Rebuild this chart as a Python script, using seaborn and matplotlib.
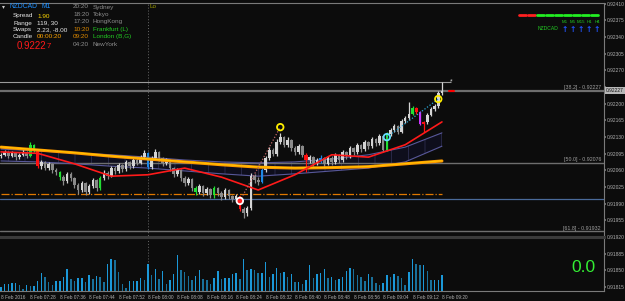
import numpy as np
import pandas as pd
import matplotlib
matplotlib.use('Agg')
import matplotlib.pyplot as plt
import seaborn as sns

# ------------------------------------------------------------ #
# data: NZDCAD M1, 8 Feb 2016 07:20 - 09:20
# ------------------------------------------------------------ #

bar_times = pd.date_range('2016-02-08 07:20', periods=121, freq='min')
first_open = 92090
close_pts = [92093, 92099, 92090, 92097, 92088,
             92093, 92099, 92090, 92114, 92103, 92069, 92078, 92065, 92074, 92061, 92057, 92046, 92038, 92053,
             92044, 92030, 92019, 92034, 92015, 92027, 92040, 92023, 92044, 92055, 92048, 92065, 92059, 92072,
             92063, 92078, 92069, 92082, 92076, 92088, 92097, 92067, 92086, 92099, 92086, 92076, 92082, 92065,
             92053, 92061, 92044, 92034, 92042, 92023, 92015, 92027, 92013, 92021, 92009, 92023, 92013, 92004,
             92019, 92006, 92000, 92006, 91979, 91971, 91981, 92048, 92040, 92036, 92061, 92086, 92103, 92095,
             92120, 92130, 92114, 92124, 92107, 92099, 92111, 92093, 92082, 92088, 92076, 92082, 92086, 92074,
             92086, 92078, 92093, 92082, 92099, 92090, 92107, 92099, 92114, 92105, 92120, 92111, 92126, 92118,
             92132, 92103, 92137, 92145, 92153, 92141, 92164, 92170, 92179, 92191, 92183, 92158, 92162, 92177,
             92189, 92195, 92222, 92227]
high_pts = [92097, 92103, 92101, 92101, 92099,
            92097, 92105, 92101, 92120, 92116, 92105, 92082, 92080, 92078, 92076, 92065, 92059, 92050, 92057,
            92057, 92046, 92034, 92038, 92036, 92032, 92044, 92042, 92048, 92061, 92059, 92069, 92069, 92076,
            92074, 92082, 92080, 92088, 92086, 92093, 92103, 92099, 92090, 92105, 92101, 92088, 92086, 92084,
            92067, 92065, 92063, 92048, 92046, 92044, 92027, 92032, 92030, 92025, 92023, 92027, 92025, 92017,
            92023, 92021, 92009, 92011, 92006, 91983, 91986, 92055, 92053, 92046, 92065, 92090, 92109, 92107,
            92126, 92139, 92132, 92130, 92126, 92111, 92116, 92114, 92097, 92093, 92090, 92086, 92093, 92088,
            92090, 92090, 92097, 92095, 92103, 92101, 92111, 92109, 92118, 92116, 92124, 92122, 92130, 92128,
            92137, 92135, 92141, 92149, 92158, 92156, 92168, 92174, 92204, 92195, 92193, 92185, 92164, 92181,
            92193, 92200, 92226, 92246]
low_pts = [92086, 92090, 92086, 92088, 92082,
           92084, 92090, 92086, 92088, 92099, 92065, 92063, 92061, 92061, 92055, 92050, 92040, 92030, 92034,
           92038, 92023, 92011, 92015, 92009, 92011, 92023, 92017, 92019, 92040, 92042, 92046, 92053, 92055,
           92057, 92059, 92063, 92065, 92072, 92074, 92084, 92063, 92063, 92082, 92080, 92069, 92072, 92059,
           92046, 92048, 92038, 92027, 92030, 92017, 92009, 92011, 92006, 92009, 92002, 92002, 92006, 91998,
           92000, 92000, 91994, 91996, 91975, 91960, 91965, 91977, 92034, 92030, 92034, 92057, 92082, 92090,
           92090, 92116, 92109, 92109, 92101, 92093, 92095, 92088, 92057, 92076, 92069, 92072, 92076, 92067,
           92072, 92072, 92074, 92076, 92078, 92084, 92086, 92093, 92095, 92099, 92101, 92105, 92107, 92111,
           92114, 92099, 92101, 92132, 92141, 92137, 92139, 92160, 92166, 92177, 92179, 92156, 92141, 92158,
           92174, 92185, 92191, 92218]
tick_volume = [9, 14, 15, 17, 17, 12, 5, 12, 10, 11, 20, 37, 29, 19, 12, 21, 21, 29, 44, 24,
               21, 27, 27, 19, 32, 25, 30, 29, 19, 55, 65, 62, 39, 15, 7, 20, 21, 21, 27, 22,
               55, 32, 45, 25, 40, 15, 22, 34, 72, 43, 39, 30, 22, 31, 42, 24, 22, 14, 27, 41,
               25, 27, 27, 35, 37, 25, 64, 43, 45, 42, 37, 37, 59, 29, 35, 47, 37, 39, 29, 34,
               19, 19,
               15, 22, 52, 27, 35, 37, 45, 27, 29, 22, 24, 29, 40, 47, 45, 32, 29, 20, 34, 29,
               17, 13, 17, 32, 29, 35, 30, 27, 13, 39, 64, 54, 52, 52, 41, 22, 22, 22, 32]

# signal-coloured bars
green_bars = [8, 9, 16, 27, 53, 58, 105, 112]
blue_bars = [40, 71, 87]
red_bars = [10, 65, 83, 113, 115]
purple_bars = [114]

# moving averages / envelope read every 10 bars
ma_bars = [0, 10, 20, 30, 40, 50, 60, 70, 80, 90, 100, 110, 120]
ma_fast = [92099, 92096, 92074, 92048, 92051, 92065, 92046, 92019, 92051, 92093, 92088, 92114, 92162]
ma_slow = [92109, 92103, 92097, 92090, 92084, 92078, 92072, 92067, 92065, 92066, 92068, 92074, 92080]
env_upper = [92105, 92101, 92097, 92093, 92088, 92082, 92078, 92076, 92078, 92084, 92093, 92109, 92139]
env_lower = [92080, 92078, 92074, 92069, 92065, 92059, 92053, 92048, 92053, 92059, 92065, 92078, 92111]

# zigzag swing points
swing_bars = [65, 76, 105, 119]
swing_pts = [91996, 92151, 92130, 92210]

fib_levels = ['38.2', '50.0', '61.8']
fib_prices = [0.92227, 0.92076, 0.91932]
recent_high = 0.92246
bid = 0.92227
level_blue = 0.92000
level_orange = 0.92011

price_ticks = [0.92410, 0.92375, 0.92340, 0.92305, 0.92270, 0.92235, 0.92200, 0.92165, 0.92130,
               0.92095, 0.92060, 0.92025, 0.91990, 0.91955, 0.91920, 0.91885, 0.91850, 0.91815]

sessions = ['20:20', '18:20', '17:20', '10:20', '09:20', '04:20']
session_names = ['Sydney', 'Tokyo', 'HongKong', 'Frankfurt (L)', 'London (B,G)', 'NewYork']
info_names = ['Spread', 'Range', 'Swaps', 'Candle']
info_values = ['1.90', '119, 30', '2.23, -8.00', '00:00:20']
tf_names = ['M1', 'M5', 'M15', 'H1', 'H4']
trend_dash = ['down', 'down', 'up', 'up', 'up', 'up', 'up', 'up', 'up']
signal_value = '0.0'

# ------------------------------------------------------------ #
# frame
# ------------------------------------------------------------ #

BG = '#0c0c0c'
GRID = '#7a7a7a'
sns.set_theme(style='dark', rc={'axes.facecolor': BG, 'figure.facecolor': BG,
                                'axes.edgecolor': GRID, 'hatch.linewidth': 0.4})
plt.rcParams['font.family'] = ['Liberation Sans', 'DejaVu Sans']

W, H = 625, 301
fig = plt.figure(figsize=(W / 100, H / 100), dpi=100)


def fx(x):
    return x / W


def fy(y):
    return 1 - y / H


ax = fig.add_axes([0, fy(291), fx(604), (291 - 3) / H])
vax = fig.add_axes([0, fy(291), fx(604), (291 - 237) / H])
vax.patch.set_alpha(0)

n = len(close_pts)
idx = np.arange(n)
c = np.array(close_pts) / 1e5
o = np.array([first_open] + close_pts[:-1]) / 1e5
hi = np.array(high_pts) / 1e5
lo = np.array(low_pts) / 1e5

cols = np.where(c >= o, '#d4d4d4', '#8a8a8a').astype(object)
widths = np.full(n, 0.7)
for i in green_bars:
    cols[i] = '#22dd33'
for i in blue_bars:
    cols[i] = '#1e88e5'
for i in red_bars:
    cols[i] = '#ff1010'
for i in purple_bars:
    cols[i] = '#cc33ff'
widths[[10, 83]] = 0.95

# envelope
mx = np.array(ma_bars)
ax.fill_between(mx, np.array(env_lower) / 1e5, np.array(env_upper) / 1e5,
                facecolor='#0e0e1c', edgecolor='#3c3c66', hatch='|', linewidth=0, zorder=1)
ax.plot(mx, np.array(env_upper) / 1e5, color='#58589a', lw=0.8, zorder=2)
ax.plot(mx, np.array(env_lower) / 1e5, color='#58589a', lw=0.8, zorder=2)

# levels
ax.axhline(level_blue, color='#4a6a9a', lw=0.9, zorder=1)
ax.hlines(level_orange, 0, n - 1, color='#e07800', lw=0.9, linestyles='-.', zorder=1)
ax.hlines(recent_high, -1, n + 1.5, color='#9a9a9a', lw=0.8, zorder=1)
for lvl, p in zip(fib_levels, fib_prices):
    ax.axhline(p, color='#6e6e6e', lw=1.6 if lvl == '38.2' else 1.0, zorder=1)
    ax.text(0.995, p + 0.000012, f'[{lvl}] - {p:.5f}', transform=ax.get_yaxis_transform(),
            ha='right', va='bottom', fontsize=3.8, color='#a0a0a0')

ax.axvline(40, color='#6a6a6a', lw=0.7, ls=(0, (1, 2)), zorder=1)

# candles
ax.vlines(idx, lo, hi, colors=list(cols), lw=0.9, zorder=3)
ax.bar(idx, np.maximum(np.abs(c - o), 0.000014), bottom=np.minimum(o, c), width=widths,
       color=list(cols), linewidth=0, zorder=4)

# moving averages
sns.lineplot(x=mx, y=np.array(ma_slow) / 1e5, color='#ff9800', lw=2.2, ax=ax, zorder=5)
sns.lineplot(x=mx, y=np.array(ma_slow) / 1e5 + 0.000005, color='#ffc400', lw=0.8, ax=ax, zorder=5)
sns.lineplot(x=mx, y=np.array(ma_fast) / 1e5, color='#ff1a1a', lw=1.2, ax=ax, zorder=6)

# zigzag
sp = np.array(swing_pts) / 1e5
ax.plot(swing_bars[:2], sp[:2], color='#c06868', lw=0.9, ls=(0, (1, 1.5)), zorder=6)
ax.plot(swing_bars[2:], sp[2:], color='#2aa8d8', lw=0.9, ls=(0, (1, 1.5)), zorder=6)
ring_face = ['#ff2020', 'none', 'none', 'none']
ring_edge = ['#ffffff', '#ffee00', '#66ddff', '#ffee00']
sns.scatterplot(x=swing_bars, y=sp, s=22, facecolors=ring_face, edgecolors=ring_edge,
                linewidths=1.3, ax=ax, zorder=7)
ax.text(n + 1.5, recent_high, '*', color='#d0d0d0', fontsize=5, ha='center', va='center')
ax.plot([n + 0.8, n + 2.2], [bid, bid], color='#ff0000', lw=1.5)

ax.set_xlim(-0.27, 164.1)
ax.set_ylim(0.918069, 0.924117)
ax.set_xticks([])
ax.yaxis.tick_right()
ax.set_yticks(price_ticks)
ax.set_yticklabels(['' if abs(p - bid) < 0.0001 else f'{p:.5f}' for p in price_ticks],
                   fontsize=3.5, color='#b0b0b0')
ax.tick_params(axis='y', length=1.5, color=GRID, pad=0.5)
ax.spines['left'].set_visible(False)
for s in ['right', 'top', 'bottom']:
    ax.spines[s].set_color(GRID)
    ax.spines[s].set_linewidth(0.8)
ax.text(1.003, bid, f'{bid:.5f}', transform=ax.get_yaxis_transform(), ha='left', va='center',
        fontsize=3.5, color='#111111', bbox=dict(boxstyle='square,pad=0.2', fc='#b8b8b8', ec='none'))

# volume pane
v = np.array(tick_volume)
vcols = np.where(np.r_[True, v[1:] >= v[:-1]], '#1b98d8', '#19709a')
vax.bar(idx, v, width=0.4, color=list(vcols), linewidth=0)
vax.set_xlim(-0.27, 164.1)
vax.set_ylim(0, 108)
vax.set_yticks([])
tick_pos = list(range(0, n, 8))
tick_lab = ['8 Feb 2016'] + [f"8 Feb {bar_times[i]:%H:%M}" for i in tick_pos[1:]]
vax.set_xticks(tick_pos)
vax.set_xticklabels(tick_lab, fontsize=3.4, color='#b0b0b0', ha='left')
vax.tick_params(axis='x', length=2, color=GRID, pad=1)
for s in ['left', 'right', 'bottom']:
    vax.spines[s].set_visible(False)
vax.spines['top'].set_color('#3a3a3a')
vax.spines['top'].set_linewidth(2.2)

# ------------------------------------------------------------ #
# info panels
# ------------------------------------------------------------ #

fs = 4.6
fig.text(fx(2), fy(6.5), '▾', color='#d0d0d0', fontsize=4.2, va='center')
fig.text(fx(9), fy(6.5), 'NZDCAD', color='#1e90ff', fontsize=4.9, va='center')
fig.text(fx(41), fy(6.5), 'M1', color='#1e90ff', fontsize=4.9, va='center')
value_cols = ['#ffd700', '#e8e8e8', '#e8e8e8', '#ffa500']
for k, (nm, val) in enumerate(zip(info_names, info_values)):
    y = 16 + k * 7
    fig.text(fx(13), fy(y), nm, color='#e8e8e8', fontsize=fs, va='center')
    fig.text(fx(37), fy(y), val, color=value_cols[k], fontsize=fs, va='center')
fig.text(fx(17), fy(46), f'{bid:.5f}'[:-1], color='#ff1a1a', fontsize=7, va='center')
fig.text(fx(46.5), fy(47), f'{bid:.5f}'[-1], color='#ff1a1a', fontsize=5.6, va='center')

for k, (t, nm) in enumerate(zip(sessions, session_names)):
    y = 7 + k * 7.4
    tc, nc = '#8c8c8c', '#8c8c8c'
    if nm.startswith('Frankfurt') or nm.startswith('London'):
        tc, nc = '#e08a00', '#22cc22'
    fig.text(fx(73), fy(y), t, color=tc, fontsize=fs, va='center')
    fig.text(fx(93), fy(y), nm, color=nc, fontsize=fs, va='center')
fig.text(fx(149), fy(6), 'Lo', color='#9a9a00', fontsize=fs, va='center')

for k, d in enumerate(trend_dash):
    x0 = 519 + k * 9
    fig.add_artist(plt.Line2D([fx(x0), fx(x0 + 7)], [fy(14.7), fy(14.7)], lw=2,
                              color='#ff2020' if d == 'down' else '#22ee22'))
tf_x = [565, 572.5, 580.5, 589, 597]
for x, nm in zip(tf_x, tf_names):
    fig.text(fx(x), fy(22), nm, color='#22cc22', fontsize=3.2, ha='center', va='center')
    fig.text(fx(x), fy(29), '↑', color='#2255ff', fontsize=5.5, ha='center', va='center',
             fontweight='bold', family='DejaVu Sans')
fig.text(fx(558), fy(28), 'NZDCAD', color='#22cc22', fontsize=3.6, ha='right', va='center')

fig.text(fx(583), fy(268), signal_value, color='#33ee33', fontsize=12.5, ha='center', va='center')

fig.savefig('out.png', dpi=100, facecolor=BG)
